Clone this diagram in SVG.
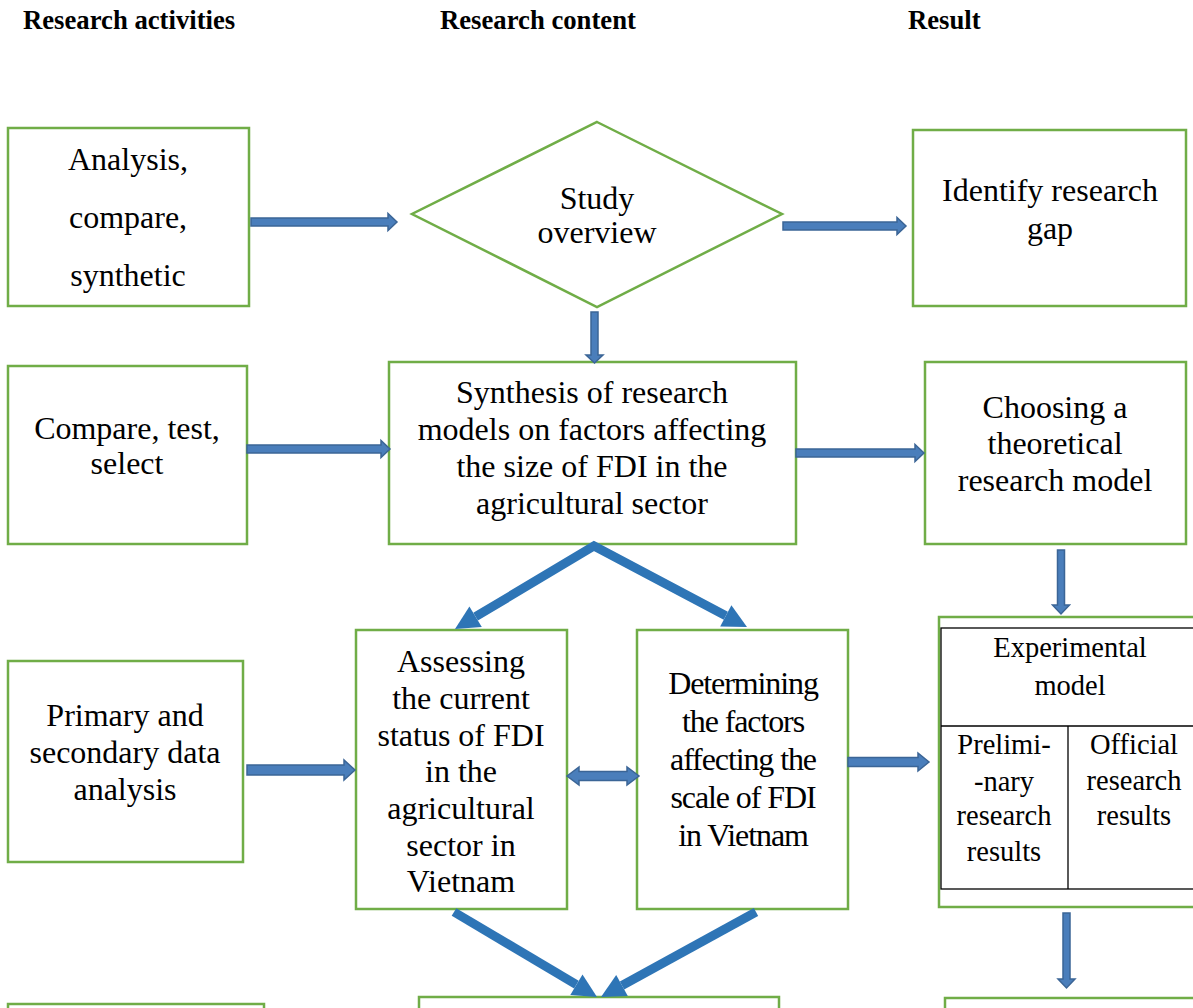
<svg xmlns="http://www.w3.org/2000/svg" width="1193" height="1008" viewBox="0 0 1193 1008">
<style>
.box{fill:#fff;stroke:#70AD47;stroke-width:2.5}
.t{font-family:"Liberation Serif","Times New Roman",serif;font-size:32px;fill:#000;text-anchor:middle}
.h{font-family:"Liberation Serif","Times New Roman",serif;font-size:26.7px;font-weight:bold;fill:#000}
.c{letter-spacing:-1.1px}
.s{font-size:28.5px}
.ba{fill:#4A7EBB;stroke:#3B6596;stroke-width:1.5}
.tk{fill:none;stroke:#2E75B6;stroke-width:9}
.th{fill:#2E75B6}
.tb{fill:none;stroke:#000;stroke-width:1.3}
</style>
<rect width="1193" height="1008" fill="#fff"/>
<g id="headers">
<text class="h" x="23" y="29">Research activities</text>
<text class="h" x="440" y="29">Research content</text>
<text class="h" x="908" y="29">Result</text>
</g>
<g id="n-analysis">
<rect class="box" x="8" y="128" width="241" height="178"/>
<text class="t" x="128" y="170">Analysis,</text>
<text class="t" x="128" y="228">compare,</text>
<text class="t" x="128" y="286">synthetic</text>
</g>
<g id="n-study">
<polygon class="box" points="597,122 782,214 597,307 412,214"/>
<text class="t" x="597" y="209">Study</text>
<text class="t" x="597" y="243">overview</text>
</g>
<g id="n-gap">
<rect class="box" x="913" y="130" width="273" height="176"/>
<text class="t" x="1050" y="201">Identify research</text>
<text class="t" x="1050" y="239">gap</text>
</g>
<g id="n-compare">
<rect class="box" x="8" y="366" width="239" height="178"/>
<text class="t" x="127" y="439">Compare, test,</text>
<text class="t" x="127" y="474">select</text>
</g>
<g id="n-synthesis">
<rect class="box" x="389" y="362" width="407" height="182"/>
<text class="t" x="592" y="403">Synthesis of research</text>
<text class="t" x="592" y="440">models on factors affecting</text>
<text class="t" x="592" y="477">the size of FDI in the</text>
<text class="t" x="592" y="514">agricultural sector</text>
</g>
<g id="n-choosing">
<rect class="box" x="925" y="362" width="261" height="182"/>
<text class="t" x="1055" y="418">Choosing a</text>
<text class="t" x="1055" y="454">theoretical</text>
<text class="t" x="1055" y="491">research model</text>
</g>
<g id="n-primary">
<rect class="box" x="8" y="661" width="235" height="201"/>
<text class="t" x="125" y="726">Primary and</text>
<text class="t" x="125" y="763">secondary data</text>
<text class="t" x="125" y="800">analysis</text>
</g>
<g id="n-assessing">
<rect class="box" x="356" y="630" width="211" height="279"/>
<text class="t" x="461" y="672">Assessing</text>
<text class="t" x="461" y="709">the current</text>
<text class="t" x="461" y="746">status of FDI</text>
<text class="t" x="461" y="782">in the</text>
<text class="t" x="461" y="819">agricultural</text>
<text class="t" x="461" y="856">sector in</text>
<text class="t" x="461" y="892">Vietnam</text>
</g>
<g id="n-determining">
<rect class="box" x="637" y="630" width="211" height="279"/>
<text class="t c" x="743" y="694">Determining</text>
<text class="t c" x="743" y="732">the factors</text>
<text class="t c" x="743" y="770">affecting the</text>
<text class="t c" x="743" y="808">scale of FDI</text>
<text class="t c" x="743" y="846">in Vietnam</text>
</g>
<g id="n-experimental">
<rect class="box" x="939" y="617" width="280" height="290"/>
<rect class="tb" x="941" y="628" width="280" height="261"/>
<line class="tb" x1="941" y1="726" x2="1221" y2="726"/>
<line class="tb" x1="1068" y1="726" x2="1068" y2="889"/>
<text class="t s" x="1070" y="657">Experimental</text>
<text class="t s" x="1070" y="695">model</text>
<text class="t s" x="1004" y="754">Prelimi-</text>
<text class="t s" x="1004" y="791">-nary</text>
<text class="t s" x="1004" y="825">research</text>
<text class="t s" x="1004" y="861">results</text>
<text class="t s" x="1134" y="754">Official</text>
<text class="t s" x="1134" y="790">research</text>
<text class="t s" x="1134" y="825">results</text>
</g>
<g id="n-bottom-left"><rect class="box" x="8" y="1004" width="256" height="50"/></g>
<g id="n-bottom-center"><rect class="box" x="419" y="997" width="360" height="50"/></g>
<g id="n-bottom-right"><rect class="box" x="945" y="998" width="270" height="50"/></g>
<g id="connectors">
<polygon class="ba" points="251,218 388,218 388,213.5 397,222 388,230.5 388,226 251,226"/>
<polygon class="ba" points="783,222 897,222 897,217.5 906,226 897,234.5 897,230 783,230"/>
<polygon class="ba" points="247,445 381,445 381,440.5 390,449 381,457.5 381,453 247,453"/>
<polygon class="ba" points="796,449 915,449 915,444.5 924,453 915,461.5 915,457 796,457"/>
<polygon class="ba" points="247,765 344,765 344,760 355,770 344,780 344,775 247,775"/>
<polygon class="ba" points="567,776 579,767 579,771.5 627,771.5 627,767 639,776 627,785 627,780.5 579,780.5 579,785"/>
<polygon class="ba" points="848,757.5 918,757.5 918,753 929,762 918,771 918,766.5 848,766.5"/>
<polygon class="ba" points="591,312 598,312 598,355 603,355 594.5,363 586,355 591,355"/>
<polygon class="ba" points="1057.5,550 1064.5,550 1064.5,605 1069.5,605 1061,614 1052.5,605 1057.5,605"/>
<polygon class="ba" points="1063,913 1070,913 1070,979 1075,979 1066.5,988 1058,979 1063,979"/>
<path class="tk" d="M475.6,616.7 L594,546 L725.8,615.8"/>
<polygon class="th" points="455,629 481.8,627 469.4,606.4"/>
<polygon class="th" points="747,627 720.2,626.4 731.4,605.2"/>
<line class="tk" x1="454" y1="912" x2="576.4" y2="984.7"/>
<polygon class="th" points="597,997 570.3,995 582.5,974.4"/>
<line class="tk" x1="756" y1="912" x2="622" y2="985.5"/>
<polygon class="th" points="601,997 627.8,996 616.2,975"/>
</g>
</svg>
